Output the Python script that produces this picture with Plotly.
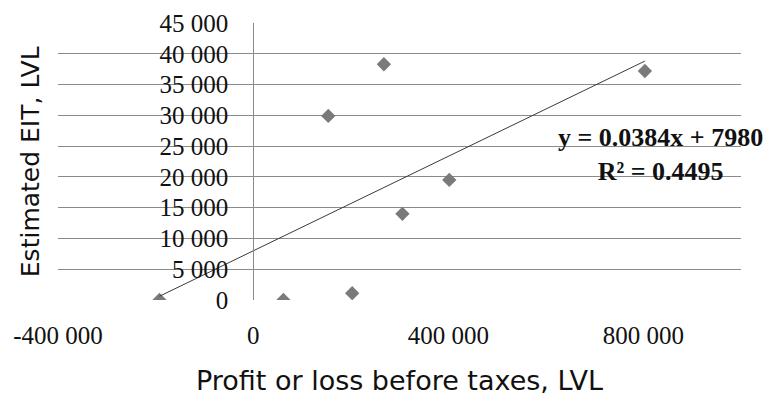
import plotly.graph_objects as go

# Data
profit = [-192000, 62000, 203000, 154000, 268000, 306000, 402000, 803000]
eit = [0, 0, 1100, 29900, 38300, 14000, 19500, 37200]

slope = 0.0384
intercept = 7980
r2 = 0.4495

x_tickvals = [-400000, 0, 400000, 800000]
x_ticktext = ["-400 000", "0", "400 000", "800 000"]
y_tickvals = [0, 5000, 10000, 15000, 20000, 25000, 30000, 35000, 40000, 45000]
y_ticktext = ["0", "5 000", "10 000", "15 000", "20 000", "25 000",
              "30 000", "35 000", "40 000", "45 000"]

x_range = [-400000, 1000000]
y_range = [0, 45000]

trend_x = [min(profit), max(profit)]
trend_y = [slope * v + intercept for v in trend_x]

fig = go.Figure()
fig.add_trace(go.Scatter(
    x=profit, y=eit, mode="markers",
    marker=dict(symbol="diamond", size=11, color="#7a7a7a", line=dict(width=0)),
    showlegend=False))
fig.add_trace(go.Scatter(
    x=trend_x, y=trend_y, mode="lines", yaxis="y2",
    line=dict(color="#3a3a3a", width=1), showlegend=False, hoverinfo="skip"))

serif = "Liberation Serif, Times New Roman, serif"
sans = "DejaVu Sans, Verdana, sans-serif"
grid = "#8a8a8a"

fig.update_layout(
    width=775, height=396,
    margin=dict(l=58, r=34, t=23, b=96),
    paper_bgcolor="white", plot_bgcolor="white",
    xaxis=dict(
        range=x_range, tickvals=x_tickvals, ticktext=x_ticktext,
        showgrid=False, zeroline=False, showline=False, automargin=False,
        ticks="outside", ticklen=13, tickcolor="rgba(0,0,0,0)",
        tickfont=dict(family=serif, size=25, color="#111"),
        title=dict(text="Profit or loss before taxes, LVL",
                   font=dict(family=sans, size=27, color="#111"), standoff=24),
    ),
    yaxis=dict(
        range=y_range, tickvals=y_tickvals, showticklabels=False,
        showgrid=True, gridcolor=grid, gridwidth=1,
        zeroline=False, showline=False, ticks="", automargin=False,
    ),
    yaxis2=dict(
        range=y_range, tickvals=y_tickvals, ticktext=y_ticktext,
        overlaying="y", anchor="free", automargin=False,
        position=(0 - x_range[0]) / (x_range[1] - x_range[0]),
        showgrid=False, zeroline=False,
        showline=True, linecolor=grid, linewidth=1,
        ticks="outside", ticklen=20, tickcolor="rgba(0,0,0,0)",
        tickfont=dict(family=serif, size=25, color="#111"),
    ),
    annotations=[
        dict(text="Estimated EIT, LVL", xref="paper", yref="paper",
             x=-0.04, y=0.5, xanchor="center", yanchor="middle",
             textangle=-90, showarrow=False,
             font=dict(family=sans, size=25, color="#111")),
        dict(text=f"y = {slope}x + {intercept}<br>R² = {r2}",
             xref="x", yref="y", x=836000, y=23700,
             xanchor="center", yanchor="middle", align="center",
             showarrow=False,
             font=dict(family=serif, size=26, color="#111", weight="bold")),
    ],
)

fig.write_html("out.html", config={"displayModeBar": False},
               post_script="document.body.style.margin='0';")
